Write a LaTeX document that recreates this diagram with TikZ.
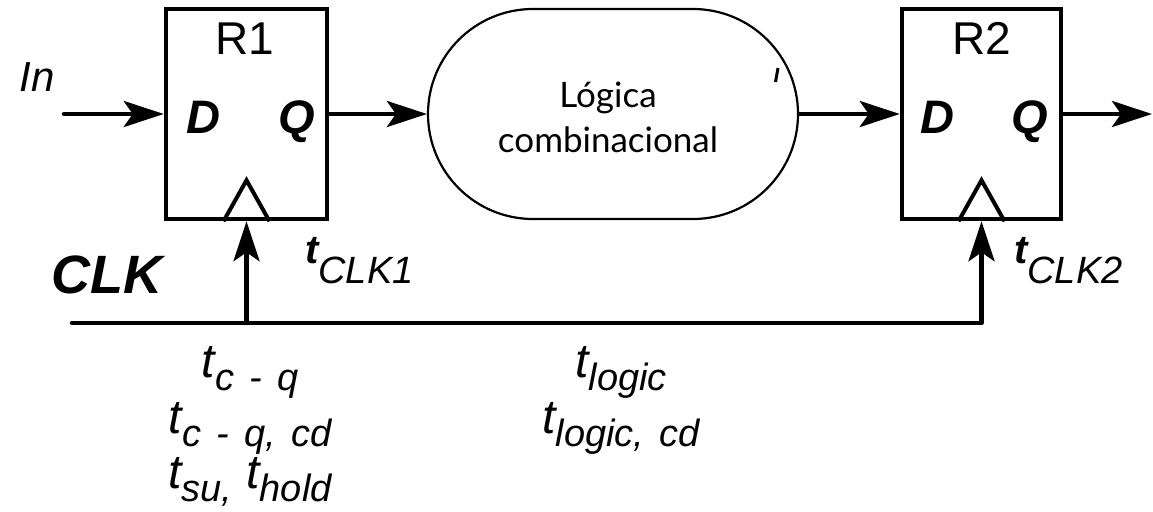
\documentclass[tikz,border=0pt]{standalone}
\usepackage{fontspec}
\setmainfont{Liberation Sans}
\newfontfamily\latofont{Lato}
\usetikzlibrary{arrows.meta,shapes.misc}
\newcommand{\tdel}[1]{{\fontsize{48}{48}\selectfont\itshape t}{\fontsize{38}{38}\selectfont\itshape\raisebox{-13pt}{#1}}}
\newcommand{\tclk}[1]{{\fontsize{40}{40}\selectfont\bfseries\itshape t}{\fontsize{38}{38}\selectfont\itshape\raisebox{-20pt}{#1}}}
\begin{document}
\begin{tikzpicture}[x=1pt,y=-1pt,
  regbox/.style={draw, line width=4.5pt, minimum height=210pt, inner sep=0pt},
  wire/.style={line width=4.5pt, line cap=round, line join=round},
  arr/.style={wire, -{Stealth[length=40pt,width=26pt,inset=9pt]}},
  clktri/.style={line width=4pt, line join=miter},
  lbl/.style={inner sep=0pt, anchor=base},
  pin/.style={lbl, font=\fontsize{47}{47}\selectfont\bfseries\itshape},
  regname/.style={lbl, font=\fontsize{46}{46}\selectfont},
  delay/.style={lbl}
]
\useasboundingbox (0,0) rectangle (1153,511);

% registers and logic
\node[regbox, minimum width=161pt] (R1) at (246.5,114) {};
\node[regbox, minimum width=159pt] (R2) at (981.5,114) {};
\node[draw, rounded rectangle, line width=2.2pt, minimum width=370pt, minimum height=210pt, inner sep=0pt] (logic) at (613,114) {};
\node[font=\latofont\fontsize{35}{45}\selectfont, align=center, inner sep=0pt] (logictxt) at (608,117) {Lógica\\combinacional};
\draw[line width=3pt] (778,68) -- (775.5,82);

% register labels
\node[regname] (R1name) at (245,55) {R1};
\node[regname] (R2name) at (982,55) {R2};
\node[pin] (R1D) at (203,133) {D};
\node[pin] (R1Q) at (297,133) {Q};
\node[pin] (R2D) at (937,133) {D};
\node[pin] (R2Q) at (1030,133) {Q};

% clock triangles
\draw[clktri] ([xshift=-23pt]R1.south) -- ([yshift=41pt]R1.south) -- ([xshift=23pt]R1.south);
\draw[clktri] ([xshift=-23pt]R2.south) -- ([yshift=41pt]R2.south) -- ([xshift=23pt]R2.south);

% data path
\coordinate (inp) at (64,114);
\coordinate (outp) at (1152,114);
\draw[arr] (inp) -- (R1.west);
\draw[arr] (R1.east) -- (logic.west);
\draw[arr] (logic.east) -- (R2.west);
\draw[arr] (R2.east) -- (outp);

% clock
\coordinate (clk) at (72,323);
\draw[arr] (clk) -- (R2.south |- clk) -- (R2.south);
\draw[arr] (R1.south |- clk) -- (R1.south);

% text labels
\node[lbl, font=\fontsize{42}{42}\selectfont\itshape] (inlbl) at (37,92) {In};
\node[lbl, font=\fontsize{54}{54}\selectfont\bfseries\itshape] (clklbl) at (107,293) {CLK};
\node[inner sep=0pt, anchor=base west] (tclk1) at (305,263) {\tclk{CLK1}};
\node[inner sep=0pt, anchor=base west] (tclk2) at (1014,263) {\tclk{CLK2}};

\node[delay] (tcq) at (250,377) {\tdel{c\hspace{0.4em}-\hspace{0.4em}q}};
\node[delay] (tcqcd) at (250,433) {\tdel{c\hspace{0.4em}-\hspace{0.4em}q,\hspace{0.4em}cd}};
\node[delay] (tsuhold) at (250,488) {\tdel{su,}\hspace{14pt}\tdel{hold}};
\node[delay] (tlogic) at (621,377) {\tdel{logic}};
\node[delay] (tlogiccd) at (621,433) {\tdel{logic,\hspace{0.4em}cd}};
\end{tikzpicture}
\end{document}
